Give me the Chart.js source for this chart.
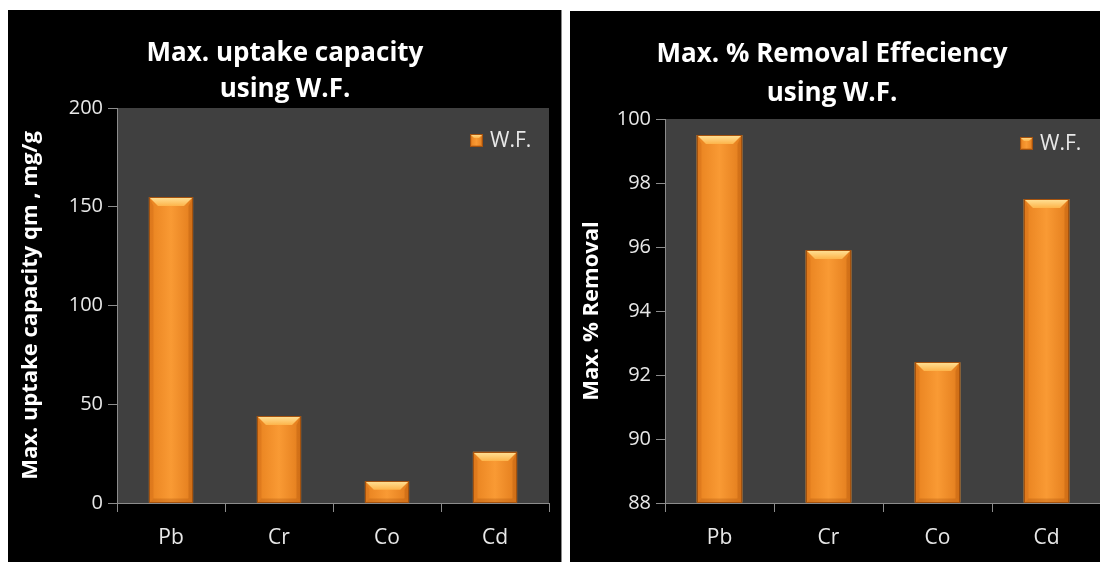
<!DOCTYPE html>
<html>
<head>
<meta charset="utf-8">
<script src="https://cdn.jsdelivr.net/npm/chart.js@4.4.0/dist/chart.umd.min.js"></script>
<style>
  body { margin: 0; background: #fff; width: 1100px; height: 562px; overflow: hidden; position: relative; }
  .panel { position: absolute; background: #000; }
  #p1 { left: 8px; top: 10px; width: 553px; height: 552px; border-right: 1px solid #8a8a8a; }
  #p2 { left: 570px; top: 11px; width: 540px; height: 551px; }
  canvas { display: block; }
</style>
</head>
<body>
<div class="panel" id="p1"><canvas id="uptakeChart" width="553" height="552"></canvas></div>
<div class="panel" id="p2"><canvas id="removalChart" width="540" height="551"></canvas></div>
<script>
// values
const metals = ['Pb', 'Cr', 'Co', 'Cd'];
const uptake = [155, 44, 11, 26];      // mg/g
const removal = [99.5, 95.9, 92.4, 97.5]; // %
const seriesName = 'W.F.';

const FONT = '"Open Sans", "Liberation Sans", sans-serif';
const AXIS_GRAY = '#8c8c8c';

// orange box with a bevel, like the Excel bars
function drawBevelBox(ctx, l, t, r, b, e) {
  ctx.save();
  let g = ctx.createLinearGradient(l, 0, r, 0);
  g.addColorStop(0, '#e8821f');
  g.addColorStop(0.5, '#f99a34');
  g.addColorStop(1, '#e27c1c');
  ctx.fillStyle = g;
  ctx.fillRect(l, t, r - l, b - t);

  // top
  g = ctx.createLinearGradient(0, t, 0, t + e);
  g.addColorStop(0, '#ffe39a');
  g.addColorStop(1, '#fdb44a');
  ctx.fillStyle = g;
  ctx.beginPath();
  ctx.moveTo(l, t); ctx.lineTo(r, t); ctx.lineTo(r - e, t + e); ctx.lineTo(l + e, t + e);
  ctx.closePath(); ctx.fill();

  // sides
  ctx.fillStyle = 'rgba(200,100,20,0.3)';
  ctx.beginPath();
  ctx.moveTo(l, t); ctx.lineTo(l + e * 0.5, t + e); ctx.lineTo(l + e * 0.5, b - e * 0.5); ctx.lineTo(l, b);
  ctx.closePath(); ctx.fill();
  ctx.fillStyle = 'rgba(170,80,10,0.3)';
  ctx.beginPath();
  ctx.moveTo(r, t); ctx.lineTo(r - e * 0.5, t + e); ctx.lineTo(r - e * 0.5, b - e * 0.5); ctx.lineTo(r, b);
  ctx.closePath(); ctx.fill();
  // bottom
  ctx.fillStyle = 'rgba(170,80,10,0.3)';
  ctx.beginPath();
  ctx.moveTo(l, b); ctx.lineTo(r, b); ctx.lineTo(r - e * 0.5, b - e * 0.5); ctx.lineTo(l + e * 0.5, b - e * 0.5);
  ctx.closePath(); ctx.fill();

  ctx.strokeStyle = '#a4520e';
  ctx.lineWidth = 1;
  ctx.strokeRect(l + 0.5, t + 0.5, r - l - 1, b - t - 1);
  ctx.restore();
}

const plotBg = {
  id: 'plotBg',
  beforeDraw(chart) {
    const a = chart.chartArea, ctx = chart.ctx;
    ctx.save();
    ctx.fillStyle = '#404040';
    ctx.fillRect(a.left, a.top, a.right - a.left, a.bottom - a.top);
    ctx.restore();
  }
};

const bevel = {
  id: 'bevel',
  afterDatasetsDraw(chart) {
    const ctx = chart.ctx;
    chart.getDatasetMeta(0).data.forEach(bar => {
      const p = bar.getProps(['x', 'y', 'base', 'width'], true);
      const l = Math.round(p.x - p.width / 2), r = Math.round(p.x + p.width / 2);
      const t = Math.round(p.y), b = Math.round(p.base);
      const e = Math.min(9, (b - t) / 2.5, p.width / 4);
      drawBevelBox(ctx, l, t, r, b, e);
    });
  }
};

const panelText = {
  id: 'panelText',
  afterDraw(chart, args, opts) {
    const ctx = chart.ctx;
    ctx.save();
    ctx.fillStyle = '#ffffff';
    ctx.font = 'bold 26px ' + FONT;
    ctx.textAlign = 'center';
    ctx.textBaseline = 'middle';
    opts.title.forEach((line, i) => ctx.fillText(line, opts.titleX, opts.titleY[i]));

    // legend
    drawBevelBox(ctx, opts.legend.x, opts.legend.y, opts.legend.x + 13, opts.legend.y + 13, 4);
    ctx.fillStyle = '#e8e8e8';
    ctx.font = '21px ' + FONT;
    ctx.textAlign = 'left';
    ctx.fillText(chart.data.datasets[0].label, opts.legend.x + 20, opts.legend.y + 7);
    ctx.restore();
  }
};

function makeChart(id, values, yOpts, layout) {
  return new Chart(document.getElementById(id), {
    type: 'bar',
    data: {
      labels: metals,
      datasets: [{
        label: seriesName,
        data: values,
        base: yOpts.min,
        backgroundColor: '#f39430',
        borderWidth: 0,
        barPercentage: layout.barPct,
        categoryPercentage: 1
      }]
    },
    options: {
      responsive: false,
      animation: false,
      layout: { padding: { top: layout.top, right: layout.right, left: 0, bottom: 0 } },
      plugins: {
        legend: { display: false },
        tooltip: { enabled: false },
        panelText: { title: layout.title, titleX: layout.titleX, titleY: layout.titleY, legend: layout.legend }
      },
      scales: {
        x: {
          grid: { display: true, drawOnChartArea: false, drawTicks: true, tickLength: 9, color: AXIS_GRAY, offset: true },
          border: { color: AXIS_GRAY, width: 1 },
          ticks: { color: '#e8e8e8', font: { family: FONT, size: 21 }, padding: 13 },
          afterFit(s) { s.height = 59; }
        },
        y: {
          min: yOpts.min, max: yOpts.max,
          ticks: { stepSize: yOpts.step, color: '#e8e8e8', font: { family: FONT, size: 20 }, padding: 5 },
          grid: { display: true, drawOnChartArea: false, drawTicks: true, tickLength: 9, color: AXIS_GRAY },
          border: { color: AXIS_GRAY, width: 1 },
          title: {
            display: true, text: yOpts.title, color: '#ffffff',
            font: { family: FONT, size: yOpts.titleSize, weight: 'bold' },
            padding: { top: layout.ytPad, bottom: 0 }
          },
          afterFit(s) { s.width = layout.left; }
        }
      }
    },
    plugins: [plotBg, bevel, panelText]
  });
}

makeChart('uptakeChart', uptake,
  { min: 0, max: 200, step: 50, title: 'Max. uptake capacity qm , mg/g', titleSize: 22 },
  { top: 98, right: 12, left: 109, barPct: 0.41, ytPad: 10,
    title: ['Max. uptake capacity', 'using W.F.'], titleX: 277, titleY: [44, 80],
    legend: { x: 462, y: 124 } });

// the right panel runs past the picture's right edge, as in the original crop
makeChart('removalChart', removal,
  { min: 88, max: 100, step: 2, title: 'Max. % Removal', titleSize: 22 },
  { top: 108, right: 9, left: 95, barPct: 0.42, ytPad: 9,
    title: ['Max. % Removal Effeciency', 'using W.F.'], titleX: 262, titleY: [44, 83],
    legend: { x: 450, y: 126 } });
</script>
</body>
</html>
